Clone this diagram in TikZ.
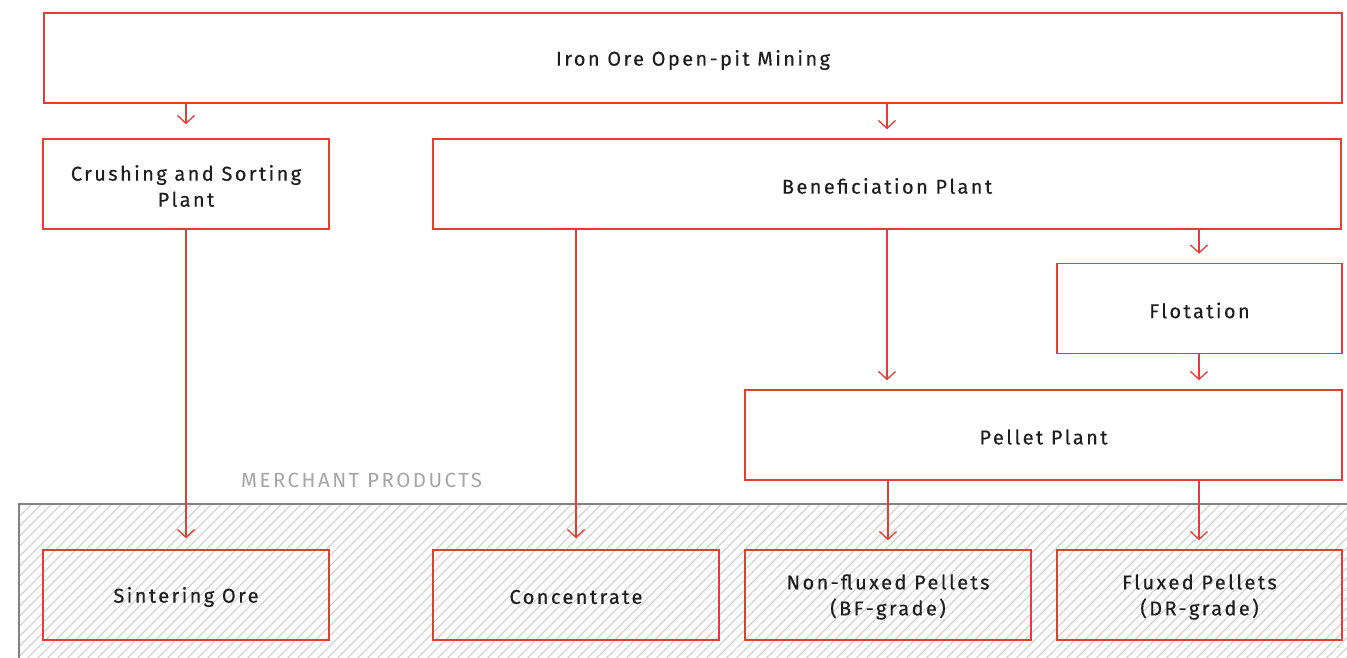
\documentclass[tikz,border=0pt]{standalone}
\usepackage{fontspec}
\setmainfont{Fira Sans}[LetterSpace=12,FakeBold=0.4]
\newfontfamily\plainfira{Fira Sans}[LetterSpace=12]
\usetikzlibrary{arrows.meta,patterns.meta}
\definecolor{boxred}{RGB}{228,62,52}
\definecolor{txt}{RGB}{30,30,30}
\definecolor{mgray}{RGB}{165,165,165}
\definecolor{hatch}{RGB}{208,208,208}
\definecolor{edgegray}{RGB}{130,130,130}
\tikzset{
  box/.style={draw=boxred, line width=1.3pt, minimum width=#1, minimum height=90pt, inner sep=0pt},
  box/.default=286pt,
  lbl/.style={inner sep=0pt, align=center, text=txt, font=\fontsize{20}{26}\selectfont, yshift=-2pt},
  flow/.style={draw=boxred, line width=1.3pt, shorten >=9pt,
    -{Straight Barb[length=8pt,width=17pt,line width=1.3pt]}},
}
\begin{document}
\begin{tikzpicture}[x=1pt,y=-1pt]
\useasboundingbox (0,0) rectangle (1347,658);
% merchant products area
\fill[pattern={Lines[angle=45,distance=6.9pt,line width=1.3pt]}, pattern color=hatch] (19,504) rectangle (1347,658);
\draw[edgegray, line width=1.2pt] (19,658) -- (19,504) -- (1347,504);
\node[anchor=west, text=mgray, font=\plainfira\fontsize{20.5}{22}\selectfont, inner sep=0pt] (mp) at (241,480) {MERCHANT PRODUCTS};

\node[box=1298pt] (mine) at (693,58) {};
\node[box] (crush) at (186,184) {};
\node[box=908pt] (benef) at (887,184) {};
\node[box=285pt] (flot) at (1199.5,308.5) {};
\node[box=597pt] (pellet) at (1043.5,435) {};
\node[box] (sinter) at (186,595) {};
\node[box] (conc) at (576,595) {};
\node[box] (nonflux) at (888,595) {};
\node[box=285pt] (flux) at (1199.5,595) {};

\node[lbl] (mine-t) at (mine) {Iron Ore Open-pit Mining};
\node[lbl] (crush-t) at (crush) {Crushing and Sorting\\Plant};
\node[lbl] (benef-t) at (benef) {Beneficiation Plant};
\node[lbl] (flot-t) at (flot) {Flotation};
\node[lbl] (pellet-t) at (pellet) {Pellet Plant};
\node[lbl] (sinter-t) at (sinter) {Sintering Ore};
\node[lbl] (conc-t) at (conc) {Concentrate};
\node[lbl] (nonflux-t) at (nonflux) {Non-fluxed Pellets\\(BF-grade)};
\node[lbl] (flux-t) at (flux) {Fluxed Pellets\\(DR-grade)};

\coordinate (fx) at (1199,0);
\draw[flow, shorten >=14pt] (mine.south -| crush.north) -- (crush.north);
\draw[flow] (mine.south -| benef.north) -- (benef.north);
\draw[flow] (benef.south -| fx) -- (flot.north -| fx);
\draw[flow] (flot.south -| fx) -- (pellet.north -| fx);
\draw[flow] (benef.south) -- (benef.south |- pellet.north);
\draw[flow, shorten >=11pt] (crush.south) -- (sinter.north);
\draw[flow, shorten >=11pt] (benef.south -| conc.north) -- (conc.north);
\draw[flow] (pellet.south -| nonflux.north) -- (nonflux.north);
\draw[flow] (pellet.south -| fx) -- (flux.north -| fx);
\end{tikzpicture}
\end{document}
